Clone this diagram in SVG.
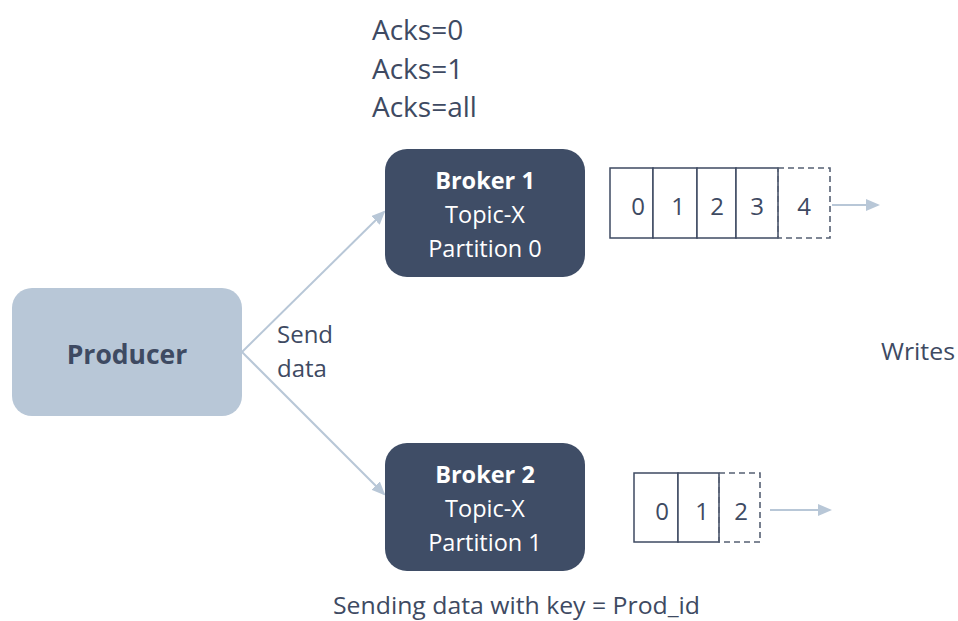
<svg xmlns="http://www.w3.org/2000/svg" width="958" height="621" viewBox="0 0 958 621">
  <style>
    text { font-family: "Open Sans", "Liberation Sans", sans-serif; fill: #3e4a62; }
    .lbl { font-size: 24px; }
    .acks { font-size: 28px; }
    .broker rect { fill: #3f4d66; }
    .broker text { fill: #ffffff; font-size: 23.5px; text-anchor: middle; }
    .broker .title { font-weight: bold; }
    .cell { fill: #ffffff; stroke: #3e4a62; stroke-width: 1.5; }
    .dash { fill: none; stroke: #566073; stroke-width: 1.6; stroke-dasharray: 6 4; }
    .num { font-size: 24px; text-anchor: middle; }
    .conn { stroke: #b8c7d7; stroke-width: 2; fill: none; }
  </style>
  <defs>
    <marker id="arrowBig" markerWidth="14" markerHeight="12" refX="12" refY="6" orient="auto" markerUnits="userSpaceOnUse">
      <path d="M0,0 L14,6 L0,12 Z" fill="#b8c7d7"/>
    </marker>
  </defs>

  <g id="acks">
    <text class="acks" x="372" y="40">Acks=0</text>
    <text class="acks" x="372" y="79">Acks=1</text>
    <text class="acks" x="372" y="117">Acks=all</text>
  </g>

  <g id="connectors">
    <line class="conn" x1="242" y1="352" x2="384" y2="212" marker-end="url(#arrowBig)"/>
    <line class="conn" x1="242" y1="352" x2="384" y2="494" marker-end="url(#arrowBig)"/>
    <line class="conn" x1="832" y1="205" x2="878" y2="205" marker-end="url(#arrowBig)"/>
    <line class="conn" x1="770" y1="510" x2="830" y2="510" marker-end="url(#arrowBig)"/>
  </g>

  <g id="producer">
    <rect x="12" y="288" width="230" height="128" rx="20" fill="#b8c7d7"/>
    <text x="127" y="364" font-size="26.5" font-weight="bold" text-anchor="middle">Producer</text>
  </g>

  <g id="send-data">
    <text class="lbl" x="277" y="343">Send</text>
    <text class="lbl" x="277" y="377">data</text>
  </g>

  <g id="broker1" class="broker">
    <rect x="385" y="149" width="200" height="128" rx="22"/>
    <text class="title" x="485" y="189">Broker 1</text>
    <text x="485" y="223">Topic-X</text>
    <text x="485" y="257">Partition 0</text>
  </g>

  <g id="broker2" class="broker">
    <rect x="385" y="443" width="200" height="128" rx="22"/>
    <text class="title" x="485" y="483">Broker 2</text>
    <text x="485" y="517">Topic-X</text>
    <text x="485" y="551">Partition 1</text>
  </g>

  <g id="log1">
    <rect class="cell" x="610" y="168" width="43" height="70"/>
    <rect class="cell" x="653" y="168" width="44" height="70"/>
    <rect class="cell" x="697" y="168" width="39" height="70"/>
    <rect class="cell" x="736" y="168" width="42" height="70"/>
    <rect class="dash" x="778" y="168" width="52" height="70"/>
    <text class="num" x="638" y="215">0</text>
    <text class="num" x="678" y="215">1</text>
    <text class="num" x="717" y="215">2</text>
    <text class="num" x="757" y="215">3</text>
    <text class="num" x="804" y="215">4</text>
  </g>

  <g id="log2">
    <rect class="cell" x="634" y="473" width="44" height="69"/>
    <rect class="cell" x="678" y="473" width="41" height="69"/>
    <rect class="dash" x="719" y="473" width="41" height="69"/>
    <text class="num" x="662" y="520">0</text>
    <text class="num" x="702" y="520">1</text>
    <text class="num" x="741" y="520">2</text>
  </g>

  <g id="writes">
    <text class="lbl" x="881" y="360" textLength="74" lengthAdjust="spacingAndGlyphs">Writes</text>
  </g>

  <g id="caption">
    <text class="lbl" x="333" y="614" font-size="23" textLength="367" lengthAdjust="spacingAndGlyphs">Sending data with key = Prod_id</text>
  </g>
</svg>
